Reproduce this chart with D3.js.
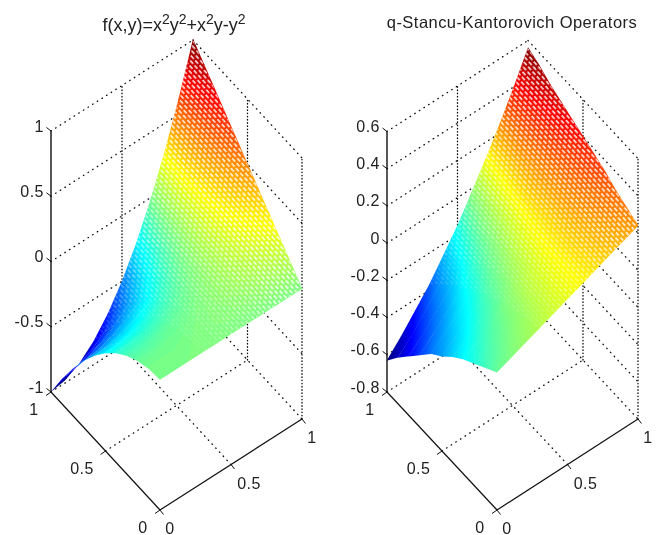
<!DOCTYPE html>
<html>
<head>
<meta charset="utf-8">
<script src="https://cdn.jsdelivr.net/npm/d3@7"></script>
<style>
html, body { margin: 0; padding: 0; background: #fff; }
svg { display: block; }
text { font-family: "Liberation Sans", Arial, sans-serif; fill: #222; }
</style>
</head>
<body>
<div id="chart"></div>
<script>
let gridSteps = [0, 0.1, 0.2, 0.3, 0.4, 0.5, 0.6, 0.7, 0.8, 0.9, 1];
let floorTicks = [0, 0.5, 1];
let zTicksLeft = [-1, -0.5, 0, 0.5, 1];
let zTicksRight = [-0.8, -0.6, -0.4, -0.2, 0, 0.2, 0.4, 0.6];

// rows are y = 0 .. 1, columns are x = 0 .. 1
let surfaceLeft = [
    [0, 0, 0, 0, 0, 0, 0, 0, 0, 0, 0],
    [-.01, -.01, -.01, 0, .01, .02, .03, .04, .06, .08, .10],
    [-.04, -.04, -.03, -.02, 0, .02, .05, .08, .11, .15, .20],
    [-.09, -.09, -.07, -.05, -.03, .01, .05, .10, .16, .23, .30],
    [-.16, -.15, -.14, -.11, -.07, -.02, .04, .11, .20, .29, .40],
    [-.25, -.24, -.22, -.18, -.13, -.06, .02, .12, .23, .36, .50],
    [-.36, -.35, -.32, -.27, -.21, -.12, -.01, .11, .25, .42, .60],
    [-.49, -.48, -.44, -.38, -.30, -.19, -.06, .09, .27, .47, .70],
    [-.64, -.63, -.58, -.51, -.41, -.28, -.12, .07, .28, .53, .80],
    [-.81, -.79, -.74, -.66, -.54, -.38, -.19, .03, .28, .58, .90],
    [-1, -.98, -.92, -.82, -.68, -.50, -.28, -.02, .28, .62, 1]
];
let surfaceRight = [
    [-.06, -.03, 0, .03, .06, .09, .12, .15, .18, .21, .24],
    [-.10, -.06, -.02, .01, .05, .09, .12, .16, .20, .23, .27],
    [-.14, -.09, -.05, -.01, .04, .08, .12, .17, .21, .26, .30],
    [-.18, -.13, -.08, -.03, .02, .07, .12, .17, .23, .28, .34],
    [-.23, -.18, -.12, -.07, -.01, .05, .11, .17, .24, .30, .37],
    [-.29, -.23, -.17, -.10, -.04, .03, .10, .17, .24, .32, .40],
    [-.34, -.28, -.21, -.15, -.07, 0, .08, .17, .25, .34, .43],
    [-.41, -.34, -.27, -.19, -.11, -.03, .06, .16, .25, .36, .46],
    [-.48, -.41, -.33, -.25, -.16, -.06, .04, .14, .26, .37, .49],
    [-.55, -.48, -.39, -.30, -.21, -.10, .01, .13, .25, .39, .53],
    [-.63, -.55, -.46, -.37, -.26, -.15, -.02, .11, .25, .40, .56]
];

let width = 657;
let height = 535;

let svg = d3.select('#chart').append('svg')
    .attr('width', width)
    .attr('height', height);

let defs = svg.append('defs');
defs.append('filter')
    .attr('id', 'soft')
    .attr('x', 0).attr('y', 0)
    .attr('width', 1).attr('height', 1)
    .append('feGaussianBlur')
    .attr('stdDeviation', 0.5);

// little white gaps of the mesh
let dashes = defs.append('pattern')
    .attr('id', 'dashes')
    .attr('patternUnits', 'userSpaceOnUse')
    .attr('width', 6.5)
    .attr('height', 7.6)
    .attr('patternTransform', 'rotate(48)');
dashes.append('rect').attr('x', 0).attr('y', 1).attr('width', 4.4).attr('height', 1.5).attr('fill', '#fff');
dashes.append('rect').attr('x', 3.25).attr('y', 4.8).attr('width', 4.4).attr('height', 1.5).attr('fill', '#fff');
dashes.append('rect').attr('x', -3.25).attr('y', 4.8).attr('width', 4.4).attr('height', 1.5).attr('fill', '#fff');

let root = svg.append('g').attr('filter', 'url(#soft)');
root.append('rect').attr('width', width).attr('height', height).attr('fill', '#fff');

function jet(domain) {
    let lo = domain[0], hi = domain[1];
    return d3.scaleLinear()
        .domain([0, 0.125, 0.375, 0.625, 0.875, 1].map(function(t) { return lo + t * (hi - lo); }))
        .range(['#000080', '#0000ff', '#00ffff', '#ffff00', '#ff0000', '#800000']);
}

function drawPanel(idx, values, zTicks, zDomain, front, right, left, zTop, zBottom) {
    let g = root.append('g');
    let n = gridSteps.length;

    let xPx = d3.scaleLinear().domain([0, 1]).range([0, right[0] - front[0]]);
    let xPy = d3.scaleLinear().domain([0, 1]).range([0, right[1] - front[1]]);
    let yPx = d3.scaleLinear().domain([0, 1]).range([0, left[0] - front[0]]);
    let yPy = d3.scaleLinear().domain([0, 1]).range([0, left[1] - front[1]]);
    let zPy = d3.scaleLinear().domain(zDomain).range([0, zTop - zBottom]);

    function project(x, y, z) {
        return [front[0] + xPx(x) + yPx(y), front[1] + xPy(x) + yPy(y) + zPy(z)];
    }
    function segment(a, b) {
        let p = project(a[0], a[1], a[2]);
        let q = project(b[0], b[1], b[2]);
        return g.append('line')
            .attr('x1', p[0]).attr('y1', p[1])
            .attr('x2', q[0]).attr('y2', q[1])
            .attr('stroke', '#111');
    }
    function dotted(a, b, dash) {
        segment(a, b)
            .attr('stroke-width', 1.35)
            .attr('stroke-linecap', 'round')
            .attr('stroke-dasharray', dash);
    }
    let slant = '0.5 5';
    let upright = '0.5 2.7';

    // back walls and floor
    let zLo = zDomain[0], zHi = zDomain[1];
    zTicks.forEach(function(z) {
        dotted([0, 1, z], [1, 1, z], slant);
        dotted([1, 1, z], [1, 0, z], slant);
    });
    dotted([0.5, 0, zLo], [0.5, 1, zLo], slant);
    dotted([0, 0.5, zLo], [1, 0.5, zLo], slant);
    dotted([0.5, 1, zLo], [0.5, 1, zHi], upright);
    dotted([1, 0.5, zLo], [1, 0.5, zHi], upright);
    dotted([1, 0, zLo], [1, 0, zHi], upright);

    // surface
    let flat = d3.merge(values);
    let extent = d3.extent(flat);
    let color = jet(extent);

    function zAt(u, v) {
        let i = Math.max(0, Math.min(n - 2, Math.floor(u * (n - 1))));
        let j = Math.max(0, Math.min(n - 2, Math.floor(v * (n - 1))));
        let s = u * (n - 1) - i;
        let t = v * (n - 1) - j;
        return (1 - t) * ((1 - s) * values[j][i] + s * values[j][i + 1]) +
            t * ((1 - s) * values[j + 1][i] + s * values[j + 1][i + 1]);
    }
    let toScreen = d3.geoTransform({
        point: function(px, py) {
            let u = (px - 0.5) / (n - 1);
            let v = (py - 0.5) / (n - 1);
            let p = project(u, v, zAt(u, v));
            this.stream.point(p[0], p[1]);
        }
    });
    let path = d3.geoPath(toScreen);

    let cells = [];
    for (let j = 0; j < n - 1; j++) {
        for (let i = 0; i < n - 1; i++) {
            cells.push({
                x: gridSteps[i],
                pts: [
                    project(gridSteps[i], gridSteps[j], values[j][i]),
                    project(gridSteps[i + 1], gridSteps[j], values[j][i + 1]),
                    project(gridSteps[i + 1], gridSteps[j + 1], values[j + 1][i + 1]),
                    project(gridSteps[i], gridSteps[j + 1], values[j + 1][i])
                ]
            });
        }
    }
    let cellPath = function(d) { return 'M' + d.pts.join('L') + 'Z'; };

    // clip cells are grown a bit so no seams show between them
    defs.append('clipPath').attr('id', 'clip' + idx)
        .selectAll('path')
        .data(cells)
        .enter()
        .append('path')
        .attr('d', function(d) {
            let cx = d3.mean(d.pts, function(p) { return p[0]; });
            let cy = d3.mean(d.pts, function(p) { return p[1]; });
            return 'M' + d.pts.map(function(p) {
                return [cx + (p[0] - cx) * 1.03, cy + (p[1] - cy) * 1.03];
            }).join('L') + 'Z';
        });

    let surface = g.append('g').attr('clip-path', 'url(#clip' + idx + ')');
    let thresholds = d3.range(extent[0], extent[1], (extent[1] - extent[0]) / 128);
    let bands = d3.contours()
        .size([n, n])
        .thresholds(thresholds)(flat);

    surface.selectAll('path.band')
        .data(bands)
        .enter()
        .append('path')
        .attr('class', 'band')
        .attr('d', path)
        .attr('fill', function(d) { return color(d.value); });

    // the mesh opens up away from the x = 0 edge
    let gapOpacity = d3.scaleLinear().domain([0.2, 0.8]).range([0, 0.95]).clamp(true);
    surface.selectAll('path.gap')
        .data(cells)
        .enter()
        .append('path')
        .attr('class', 'gap')
        .attr('d', cellPath)
        .attr('fill', 'url(#dashes)')
        .attr('opacity', function(d) { return gapOpacity(d.x); });

    // axis lines
    segment([0, 1, zLo], [0, 1, zHi]).attr('stroke-width', 1.4);
    segment([0, 0, zLo], [1, 0, zLo]).attr('stroke-width', 1.2);
    segment([0, 0, zLo], [0, 1, zLo]).attr('stroke-width', 1.2);

    let labelSize = 16;
    function label(x, y, txt, anchor) {
        g.append('text')
            .attr('x', x).attr('y', y)
            .attr('text-anchor', anchor)
            .attr('font-size', labelSize)
            .attr('letter-spacing', 0.5)
            .text(txt);
    }
    function tick(p, dx, dy) {
        g.append('line')
            .attr('x1', p[0]).attr('y1', p[1])
            .attr('x2', p[0] + dx).attr('y2', p[1] + dy)
            .attr('stroke', '#111')
            .attr('stroke-width', 1);
    }

    floorTicks.forEach(function(t) {
        let p = project(t, 0, zLo);
        tick(p, 3.5, 4.5);
        label(p[0] + (t === 0.5 ? 18 : 10), p[1] + 24, String(t), 'middle');
        let q = project(0, t, zLo);
        tick(q, -5, 3.5);
        label(q[0] + (t === 0.5 ? -23.5 : -17), q[1] + 23, String(t), 'middle');
    });
    zTicks.forEach(function(z) {
        let p = project(0, 1, z);
        tick(p, -4.5, -3.5);
        label(p[0] - 7, p[1] + 0.5, String(z), 'end');
    });
}

drawPanel(0, surfaceLeft, zTicksLeft, [-1, 1], [160, 510], [302, 419], [51, 392], 131, 392);
drawPanel(1, surfaceRight, zTicksRight, [-0.8, 0.6], [497, 510], [638, 419], [387, 392], 131.5, 392);

// titles
let titleLeft = root.append('text')
    .attr('x', 174).attr('y', 31)
    .attr('text-anchor', 'middle')
    .attr('font-size', 18);
[['f(x,y)=x', 0], ['2', 1], ['y', 0], ['2', 1], ['+x', 0], ['2', 1], ['y-y', 0], ['2', 1]].forEach(function(part, i, all) {
    let prevSup = i > 0 && all[i - 1][1] === 1;
    titleLeft.append('tspan')
        .attr('font-size', part[1] ? 14 : 18)
        .attr('dy', part[1] ? -7 : (prevSup ? 7 : 0))
        .text(part[0]);
});

root.append('text')
    .attr('x', 512).attr('y', 28)
    .attr('text-anchor', 'middle')
    .attr('font-size', 16.5)
    .attr('letter-spacing', 0.46)
    .text('q-Stancu-Kantorovich Operators');
</script>
</body>
</html>
